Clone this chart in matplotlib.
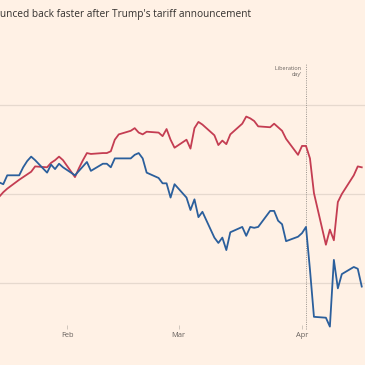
import numpy as np
import pandas as pd
import matplotlib
matplotlib.use("Agg")
from matplotlib import pyplot as plt
import matplotlib.dates as mdates

plt.rcParams['font.family'] = ['Open Sans', 'DejaVu Sans']

# trading days shown in the crop
dates = pd.bdate_range("2025-01-15", "2025-04-16")

# red series (index)
red = [99.7, 100.2, 100.6,
       101.6, 101.9, 102.2, 102.5, 103.1,
       103.0, 103.5, 103.8, 104.2, 103.8,
       101.9, 102.9, 103.8, 104.6, 104.5,
       104.6, 104.6, 104.8, 106.1, 106.7,
       107.1, 107.4, 106.9, 106.7, 107.0,
       106.9, 106.5, 107.3, 106.1, 105.2,
       106.1, 105.1, 107.4, 108.1, 107.8,
       106.6, 105.5, 106.0, 105.6, 106.7,
       107.9, 108.7, 108.5, 108.2, 107.6,
       107.5, 107.9, 107.5, 107.1, 106.2,
       104.4, 105.4, 105.4, 104.0, 100.1,
       94.3, 96.0, 94.8, 99.1, 100.0,
       102.1, 103.1, 103.0]

# blue series
blue = [101.3, 101.1, 102.1,
        102.1, 103.0, 103.7, 104.2, 103.8,
        102.4, 103.3, 102.8, 103.4, 103.0,
        102.1, 102.6, 103.1, 103.6, 102.6,
        103.4, 103.4, 103.0, 104.0, 104.0,
        104.0, 104.4, 104.6, 104.0, 102.4,
        101.8, 101.2, 101.2, 99.6, 101.1,
        99.6, 98.2, 99.4, 97.4, 98.0,
        95.1, 94.5, 95.1, 93.7, 95.7,
        96.3, 95.3, 96.3, 96.2, 96.3,
        98.1, 98.1, 97.0, 96.6, 94.7,
        95.2, 95.6, 96.3, 91.5, 86.2,
        86.1, 85.1, 92.6, 89.4, 91.0,
        91.8, 91.6, 89.6]

month_ticks = ["2025-02-01", "2025-03-01", "2025-04-01"]
month_labels = ["Feb", "Mar", "Apr"]
grid_values = [90, 100, 110]
liberation = "2025-04-02"

bg = "#fff1e5"
W = 365
fig = plt.figure(figsize=(3.65, 3.65), dpi=100, facecolor=bg)
# axes: full width, from y=50px to y=325px
ax = fig.add_axes([0, 1 - 325 / W, 1, 275 / W], facecolor=bg)

feb1 = mdates.date2num(pd.Timestamp("2025-02-01"))
px_per_day = (302 - 67) / 59
ax.set_xlim(feb1 - 67 / px_per_day, feb1 + (W - 67) / px_per_day)
px_per_unit = 8.9
ax.set_ylim(100 - (325 - 194) / px_per_unit, 100 + (194 - 50) / px_per_unit)

for g in grid_values:
    ax.axhline(g, color="#e6d9ce", lw=0.9, zorder=1)

ax.plot(dates, red, color="#c43d52", lw=1.3, zorder=3, clip_on=False)
ax.plot(dates, blue, color="#2b5f9c", lw=1.3, zorder=3, clip_on=False)

lib = mdates.date2num(pd.Timestamp(liberation))
ax.plot([lib, lib], [ax.get_ylim()[0] - 0.5, 100 + (194 - 63) / px_per_unit],
        color="#9a948e", lw=0.7, ls=(0, (1, 1.3)), zorder=2, clip_on=False)
ax.text(lib - 1.0, 100 + (194 - 66) / px_per_unit, "\u2018Liberation\nday\u2019",
        ha="right", va="top", fontsize=4.0, color="#66605c", linespacing=1.3)

ax.set_xticks([mdates.date2num(pd.Timestamp(d)) for d in month_ticks])
ax.set_xticklabels(month_labels)
ax.tick_params(axis="x", length=3, width=0.6, color="#c9bfb6", labelsize=5.4,
               labelcolor="#66605c", pad=2)
ax.set_yticks([])
for s in ax.spines.values():
    s.set_visible(False)

fig.text(0.0, 1 - 15 / W, "unced back faster after Trump's tariff announcement",
         fontsize=7.3, color="#33302e", va="center", ha="left")

fig.savefig("out.png", dpi=100, facecolor=bg)
